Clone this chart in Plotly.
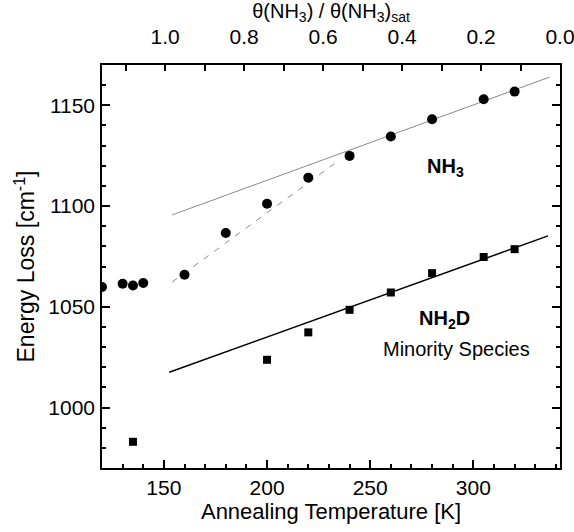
import plotly.graph_objects as go

# NH3 (circles)
nh3_T = [120, 130, 135, 140, 160, 180, 200, 220, 240, 260, 280, 305, 320]
nh3_E = [1059.8, 1061.4, 1060.6, 1061.8, 1065.9, 1086.6, 1101.1, 1114.1,
         1124.9, 1134.5, 1143.1, 1153.0, 1156.8]
# NH2D minority species (squares)
nh2d_T = [135, 200, 220, 240, 260, 280, 305, 320]
nh2d_E = [983.0, 1023.7, 1037.3, 1048.5, 1057.1, 1066.7, 1074.7, 1078.6]
# guide lines (end points)
fit_nh3_T = [154, 337]
fit_nh3_E = [1095.6, 1164.0]
dash_nh3_T = [154, 234]
dash_nh3_E = [1062.3, 1122.0]
fit_nh2d_T = [152.6, 336.2]
fit_nh2d_E = [1017.5, 1085.2]
# top axis (coverage)
cov_range = [1.16, 0.0]

FONT = "Liberation Sans, Arial, sans-serif"

fig = go.Figure()
fig.add_trace(go.Scatter(x=fit_nh3_T, y=fit_nh3_E, mode="lines",
                         line=dict(color="#8a8a8a", width=1), hoverinfo="skip"))
fig.add_trace(go.Scatter(x=dash_nh3_T, y=dash_nh3_E, mode="lines",
                         line=dict(color="#8a8a8a", width=1, dash="6px,7px"), hoverinfo="skip"))
fig.add_trace(go.Scatter(x=fit_nh2d_T, y=fit_nh2d_E, mode="lines",
                         line=dict(color="black", width=1.5), hoverinfo="skip"))
fig.add_trace(go.Scatter(x=nh3_T, y=nh3_E, mode="markers",
                         marker=dict(symbol="circle", size=10, color="black")))
fig.add_trace(go.Scatter(x=nh2d_T, y=nh2d_E, mode="markers",
                         marker=dict(symbol="square", size=8, color="black")))
# invisible trace to carry the top axis
fig.add_trace(go.Scatter(x=cov_range, y=[None, None], xaxis="x2", mode="markers",
                         marker=dict(opacity=0), hoverinfo="skip"))

axis_common = dict(showgrid=False, zeroline=False, showline=True, linecolor="black",
                   linewidth=1.5, ticks="inside", tickcolor="black", tickwidth=1.5,
                   automargin=False,
                   tickfont=dict(family=FONT, size=21, color="black"))

fig.update_layout(
    width=574, height=532,
    margin=dict(l=102, r=14, t=65, b=64),
    paper_bgcolor="white", plot_bgcolor="white",
    showlegend=False,
    font=dict(family=FONT, color="black"),
    xaxis=dict(range=[120, 342], dtick=50, tick0=0, ticklen=8,
               minor=dict(dtick=10, tick0=0, ticklen=4, ticks="inside",
                          tickcolor="black", tickwidth=1.5),
               ticklabelstandoff=0,
               title=dict(text="Annealing Temperature [K]",
                          font=dict(family=FONT, size=22), standoff=0),
               **axis_common),
    xaxis2=dict(range=cov_range, overlaying="x", side="top", dtick=0.2, tick0=0,
                tickformat=".1f", ticklen=6, ticklabeloverflow="allow",
                minor=dict(dtick=0.1, tick0=0, ticklen=6, ticks="inside",
                           tickcolor="black", tickwidth=1.5),
                ticklabelstandoff=11,
                title=dict(text="θ(NH<sub>3</sub>) / θ(NH<sub>3</sub>)<sub>sat</sub>",
                           font=dict(family=FONT, size=20), standoff=3),
                **axis_common),
    yaxis=dict(range=[970, 1170], dtick=50, tick0=0, ticklen=8, mirror="ticks",
               minor=dict(dtick=10, tick0=0, ticklen=4, ticks="inside",
                          tickcolor="black", tickwidth=1.5),
               ticklabelstandoff=1,
               title=dict(text="Energy Loss [cm<sup>-1</sup>]",
                          font=dict(family=FONT, size=23), standoff=7),
               **axis_common),
)

fig.add_annotation(x=286.3, y=1119, text="<b>NH<sub>3</sub></b>", showarrow=False,
                   font=dict(family=FONT, size=20, color="black"))
fig.add_annotation(x=285.8, y=1043.6, text="<b>NH<sub>2</sub>D</b>", showarrow=False,
                   font=dict(family=FONT, size=20, color="black"))
fig.add_annotation(x=291.6, y=1029.2, text="Minority Species", showarrow=False,
                   font=dict(family=FONT, size=20, color="black"))

fig.write_html("out.html", config={"displayModeBar": False},
               post_script="document.body.style.margin='0';")
